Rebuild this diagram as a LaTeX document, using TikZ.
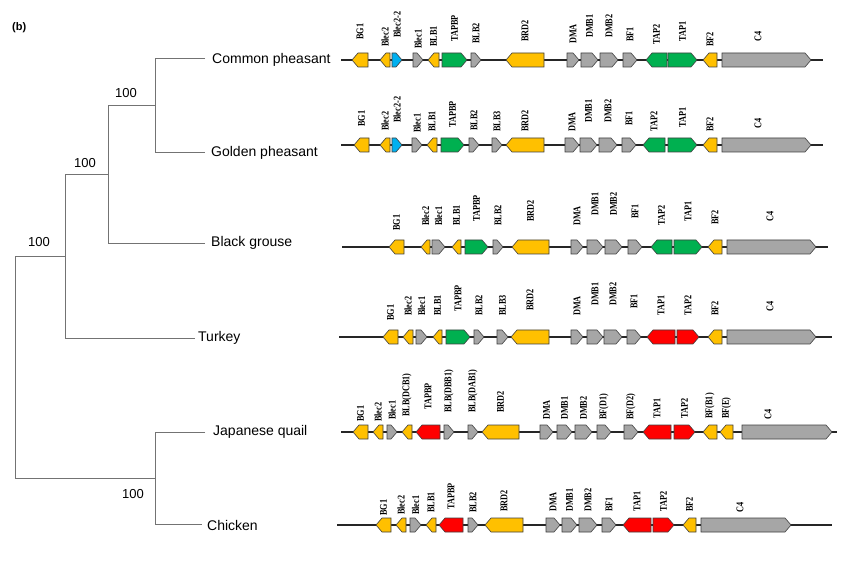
\documentclass[tikz,border=0pt]{standalone}
\usepackage{fontspec}
\setmainfont{Liberation Serif}
\newfontfamily\sansf{Liberation Sans}
\newfontfamily\serifb[FakeStretch=0.8]{Liberation Serif}
\definecolor{gy}{HTML}{FFC000}
\definecolor{gg}{HTML}{A6A6A6}
\definecolor{gr}{HTML}{00B050}
\definecolor{rd}{HTML}{FF0000}
\definecolor{bl}{HTML}{00B0F0}
\newcount\gcnt
% right-pointing gene: [label x]{x1}{x2}{colour}{label}{label bottom y}
\newcommand{\gR}[6][]{\global\advance\gcnt by 1\relax
  \draw[gene,fill=#4] (#2,{\ry-7}) -- ({#3-6},{\ry-7}) -- (#3,\ry) -- ({#3-6},{\ry+7}) -- (#2,{\ry+7}) -- cycle;
  \ifx\relax#1\relax\def\lx{(#2+#3)/2}\else\def\lx{#1}\fi
  \node[glab] (g\the\gcnt) at ({\lx},#6) {#5};}
% left-pointing gene
\newcommand{\gL}[6][]{\global\advance\gcnt by 1\relax
  \draw[gene,fill=#4] (#3,{\ry-7}) -- ({#2+6},{\ry-7}) -- (#2,\ry) -- ({#2+6},{\ry+7}) -- (#3,{\ry+7}) -- cycle;
  \ifx\relax#1\relax\def\lx{(#2+#3)/2}\else\def\lx{#1}\fi
  \node[glab] (g\the\gcnt) at ({\lx},#6) {#5};}
\begin{document}
\begin{tikzpicture}[x=1pt,y=-1pt,
  gene/.style={draw=black!75, line width=0.6pt},
  glab/.style={rotate=90, anchor=west, inner sep=0pt, font=\serifb\bfseries\fontsize{10.3}{11}\selectfont},
  tline/.style={draw=black!55, line width=0.9pt},
  leaf/.style={anchor=west, inner sep=0pt, font=\sansf\fontsize{14}{16}\selectfont},
  boot/.style={inner sep=0pt, font=\sansf\fontsize{13}{15}\selectfont},
  chrom/.style={draw=black!85, line width=1.1pt}]
\useasboundingbox (0,0) rectangle (857,561);
\fill[white] (0,0) rectangle (857,561);
\node[anchor=west, inner sep=0pt, font=\sansf\bfseries\fontsize{11}{13}\selectfont] (panel) at (12,28) {(b)};

% ---------------- tree ----------------
\coordinate (cpL) at (155,58);  \coordinate (cpR) at (205,58);
\coordinate (gpL) at (155,152); \coordinate (gpR) at (205,152);
\coordinate (n1) at (155,105);  \coordinate (n1L) at (108,105);
\coordinate (bgL) at (108,243); \coordinate (bgR) at (205,243);
\coordinate (n2) at (108,174);  \coordinate (n2L) at (65,174);
\coordinate (tkL) at (65,338);  \coordinate (tkR) at (195,338);
\coordinate (n3) at (65,256);   \coordinate (n3L) at (15,256);
\coordinate (jqL) at (155,432); \coordinate (jqR) at (205,432);
\coordinate (chL) at (155,524); \coordinate (chR) at (202,524);
\coordinate (n4) at (155,478);  \coordinate (n4L) at (15,478);
\draw[tline] (cpR) -- (cpL) -- (gpL) -- (gpR);
\draw[tline] (n1) -- (n1L) -- (bgL) -- (bgR);
\draw[tline] (n2) -- (n2L) -- (tkL) -- (tkR);
\draw[tline] (n3) -- (n3L) -- (n4L) -- (n4);
\draw[tline] (jqR) -- (jqL) -- (chL) -- (chR);
\node[leaf] (tcp) at (212,60) {Common pheasant};
\node[leaf] (tgp) at (211,153) {Golden pheasant};
\node[leaf] (tbg) at (211,243) {Black grouse};
\node[leaf] (ttk) at (198,338) {Turkey};
\node[leaf] (tjq) at (213,432) {Japanese quail};
\node[leaf] (tch) at (207,525) {Chicken};
\node[boot] (b1) at (126,93) {100};
\node[boot] (b2) at (85,163) {100};
\node[boot] (b3) at (39,242) {100};
\node[boot] (b4) at (133,494) {100};

% ---------------- row 1: Common pheasant ----------------
\def\ry{60}
\coordinate (a1) at (341,\ry); \coordinate (e1) at (823,\ry);
\draw[chrom] (a1) -- (e1);
\gL{352}{368}{gy}{BG1}{40}
\gL{380}{390}{gy}{Blec2}{47}
\gR{392}{402}{bl}{Blec2-2}{38}
\gR{413}{423}{gg}{Blec1}{49}
\gL{428}{439}{gy}{BLB1}{47}
\gR{442}{467}{gr}{TAPBP}{42}
\gR{471}{481}{gg}{BLB2}{44}
\gL{506}{544}{gy}{BRD2}{42}
\gR{567}{579}{gg}{DMA}{44}
\gR{581}{598}{gg}{DMB1}{38}
\gR{600}{618}{gg}{DMB2}{38}
\gR{623}{637}{gg}{BF1}{42}
\gL{646}{667}{gr}{TAP2}{45}
\gR{668}{697}{gr}{TAP1}{42}
\gL{703}{717}{gy}{BF2}{47}
\gR[758]{722}{811}{gg}{C4}{42}

% ---------------- row 2: Golden pheasant ----------------
\def\ry{145}
\coordinate (a2) at (341,\ry); \coordinate (e2) at (823,\ry);
\draw[chrom] (a2) -- (e2);
\gL{354}{369}{gy}{BG1}{127}
\gL{380}{390}{gy}{Blec2}{131}
\gR{392}{402}{bl}{Blec2-2}{123}
\gR{412}{422}{gg}{Blec1}{133}
\gL{427}{437}{gy}{BLB1}{132}
\gR{441}{464}{gr}{TAPBP}{128}
\gR{469}{479}{gg}{BLB2}{131}
\gR{492}{502}{gg}{BLB3}{132}
\gL{506}{544}{gy}{BRD2}{132}
\gR{565}{579}{gg}{DMA}{132}
\gR{580}{597}{gg}{DMB1}{123}
\gR{599}{617}{gg}{DMB2}{123}
\gR{622}{636}{gg}{BF1}{126}
\gL{643}{665}{gr}{TAP2}{132}
\gR{668}{697}{gr}{TAP1}{128}
\gL{703}{717}{gy}{BF2}{132}
\gR[758]{722}{811}{gg}{C4}{129}

% ---------------- row 3: Black grouse ----------------
\def\ry{247}
\coordinate (a3) at (342,\ry); \coordinate (e3) at (828,\ry);
\draw[chrom] (a3) -- (e3);
\gL{389}{404}{gy}{BG1}{231}
\gL{421}{430}{gy}{Blec2}{226}
\gR{432}{445}{gg}{Blec1}{226}
\gL{452}{461}{gy}{BLB1}{226}
\gR{465}{488}{gr}{TAPBP}{222}
\gR{493}{503}{gg}{BLB2}{226}
\gL{512}{549}{gy}{BRD2}{222}
\gR{571}{583}{gg}{DMA}{226}
\gR{587}{603}{gg}{DMB1}{216}
\gR{605}{622}{gg}{DMB2}{216}
\gR{628}{642}{gg}{BF1}{219}
\gL{651}{672}{gr}{TAP2}{226}
\gR{674}{702}{gr}{TAP1}{222}
\gL{708}{722}{gy}{BF2}{225}
\gR[770]{727}{816}{gg}{C4}{222}

% ---------------- row 4: Turkey ----------------
\def\ry{337}
\coordinate (a4) at (339,\ry); \coordinate (e4) at (832,\ry);
\draw[chrom] (a4) -- (e4);
\gL{383}{398}{gy}{BG1}{321}
\gL{403}{413}{gy}{Blec2}{316}
\gR{416}{427}{gg}{Blec1}{316}
\gL{433}{442}{gy}{BLB1}{316}
\gR{446}{470}{gr}{TAPBP}{312}
\gR{474}{484}{gg}{BLB2}{316}
\gR{497}{508}{gg}{BLB3}{316}
\gL{511}{549}{gy}{BRD2}{311}
\gR{571}{583}{gg}{DMA}{316}
\gR{587}{603}{gg}{DMB1}{306}
\gR{604}{622}{gg}{DMB2}{306}
\gR{627}{641}{gg}{BF1}{309}
\gL{647}{675}{rd}{TAP1}{316}
\gR{677}{699}{rd}{TAP2}{316}
\gL{708}{722}{gy}{BF2}{316}
\gR[770]{727}{816}{gg}{C4}{312}

% ---------------- row 5: Japanese quail ----------------
\def\ry{432}
\coordinate (a5) at (341,\ry); \coordinate (e5) at (837,\ry);
\draw[chrom] (a5) -- (e5);
\gL{353}{368}{gy}{BG1}{422}
\gL{373}{383}{gy}{Blec2}{422}
\gR{387}{397}{gg}{Blec1}{420}
\gL{402}{412}{gy}{BLB(DCB1)}{417}
\gL{416}{440}{rd}{TAPBP}{410}
\gR{444}{454}{gg}{BLB(DBB1)}{413}
\gR{468}{478}{gg}{BLB(DAB1)}{413}
\gL{482}{519}{gy}{BRD2}{413}
\gR{540}{553}{gg}{DMA}{420}
\gR{557}{572}{gg}{DMB1}{420}
\gR{575}{592}{gg}{DMB2}{420}
\gR{597}{611}{gg}{BF(D1)}{420}
\gR{624}{638}{gg}{BF(D2)}{420}
\gL{643}{671}{rd}{TAP1}{419}
\gR{674}{695}{rd}{TAP2}{419}
\gL{703}{717}{gy}{BF(B1)}{419}
\gL{720}{733}{gy}{BF(E)}{419}
\gR[768]{742}{832}{gg}{C4}{420}

% ---------------- row 6: Chicken ----------------
\def\ry{525}
\coordinate (a6) at (337,\ry); \coordinate (e6) at (832,\ry);
\draw[chrom] (a6) -- (e6);
\gL{376}{391}{gy}{BG1}{516}
\gL{396}{406}{gy}{Blec2}{515}
\gR{410}{421}{gg}{Blec1}{515}
\gL{426}{436}{gy}{BLB1}{513}
\gL{439}{463}{rd}{TAPBP}{510}
\gR{468}{478}{gg}{BLB2}{513}
\gL{485}{523}{gy}{BRD2}{512}
\gR{546}{560}{gg}{DMA}{512}
\gR{562}{577}{gg}{DMB1}{512}
\gR{579}{597}{gg}{DMB2}{512}
\gR{602}{616}{gg}{BF1}{512}
\gL{623}{651}{rd}{TAP1}{512}
\gR{653}{674}{rd}{TAP2}{512}
\gL{683}{696}{gy}{BF2}{512}
\gR[740]{701}{791}{gg}{C4}{513}
\end{tikzpicture}
\end{document}
